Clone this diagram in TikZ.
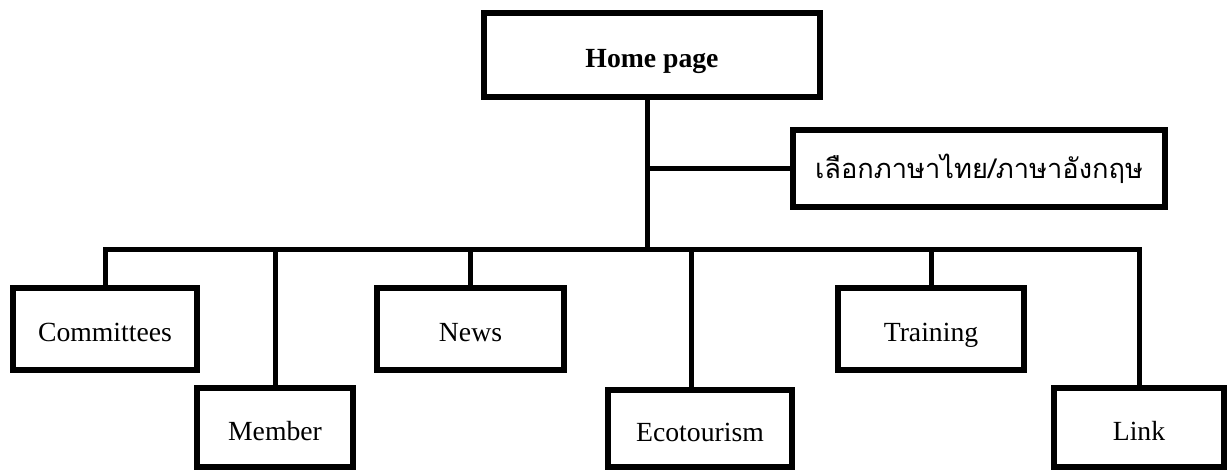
\documentclass[tikz,border=0pt]{standalone}
\usepackage{fontspec}
\setmainfont{Liberation Serif}
\newfontfamily\thaifont[Script=Thai]{Loma}
\usetikzlibrary{positioning}
\newcommand{\pxu}{0.01523cm}
\tikzset{
  pagebox/.style={draw, line width=6.5*\pxu, inner sep=0pt, fill=white, font=\fontsize{12}{14}\selectfont, text height=11pt, text depth=0pt},
  conn/.style={draw, line width=5*\pxu}
}

\begin{document}
\begin{tikzpicture}[x=0.01523cm, y=-0.01523cm]
\useasboundingbox (0,0) rectangle (1230,472);

% top level
\node[pagebox, minimum width=336*\pxu, minimum height=84*\pxu, font=\fontsize{12}{14}\selectfont\bfseries] (home) at (652,55) {Home page};
\node[pagebox, minimum width=372*\pxu, minimum height=77*\pxu, text height=, text depth=, font=\fontsize{11.8}{14}\selectfont\thaifont] (lang) at (979,168.5) {เลือกภาษาไทย/ภาษาอังกฤษ};

% first row
\node[pagebox, minimum width=184*\pxu, minimum height=82*\pxu] (comm) at (105,329) {Committees};
\node[pagebox, minimum width=187*\pxu, minimum height=82*\pxu] (news) at (470.5,329) {News};
\node[pagebox, minimum width=186*\pxu, minimum height=82*\pxu] (train) at (931,329) {Training};

% second row
\node[pagebox, minimum width=156*\pxu, minimum height=79*\pxu] (memb) at (275,427.5) {Member};
\node[pagebox, minimum width=184*\pxu, minimum height=77*\pxu] (eco) at (700,428.5) {Ecotourism};
\node[pagebox, minimum width=170*\pxu, minimum height=79*\pxu] (link) at (1139,427.5) {Link};

\coordinate (trunk) at (647,250);
\draw[conn] (home.south -| trunk) -- (trunk);
\draw[conn] (trunk |- lang.west) -- (lang.west);
\draw[conn] (comm.north) |- (trunk) -| (link.north);
\draw[conn] (memb.north) -- (memb.north |- trunk);
\draw[conn] (news.north) -- (news.north |- trunk);
\draw[conn] ([xshift=-9*\pxu]eco.north) -- ([xshift=-9*\pxu]eco.north |- trunk);
\draw[conn] (train.north) -- (train.north |- trunk);
\end{tikzpicture}
\end{document}
